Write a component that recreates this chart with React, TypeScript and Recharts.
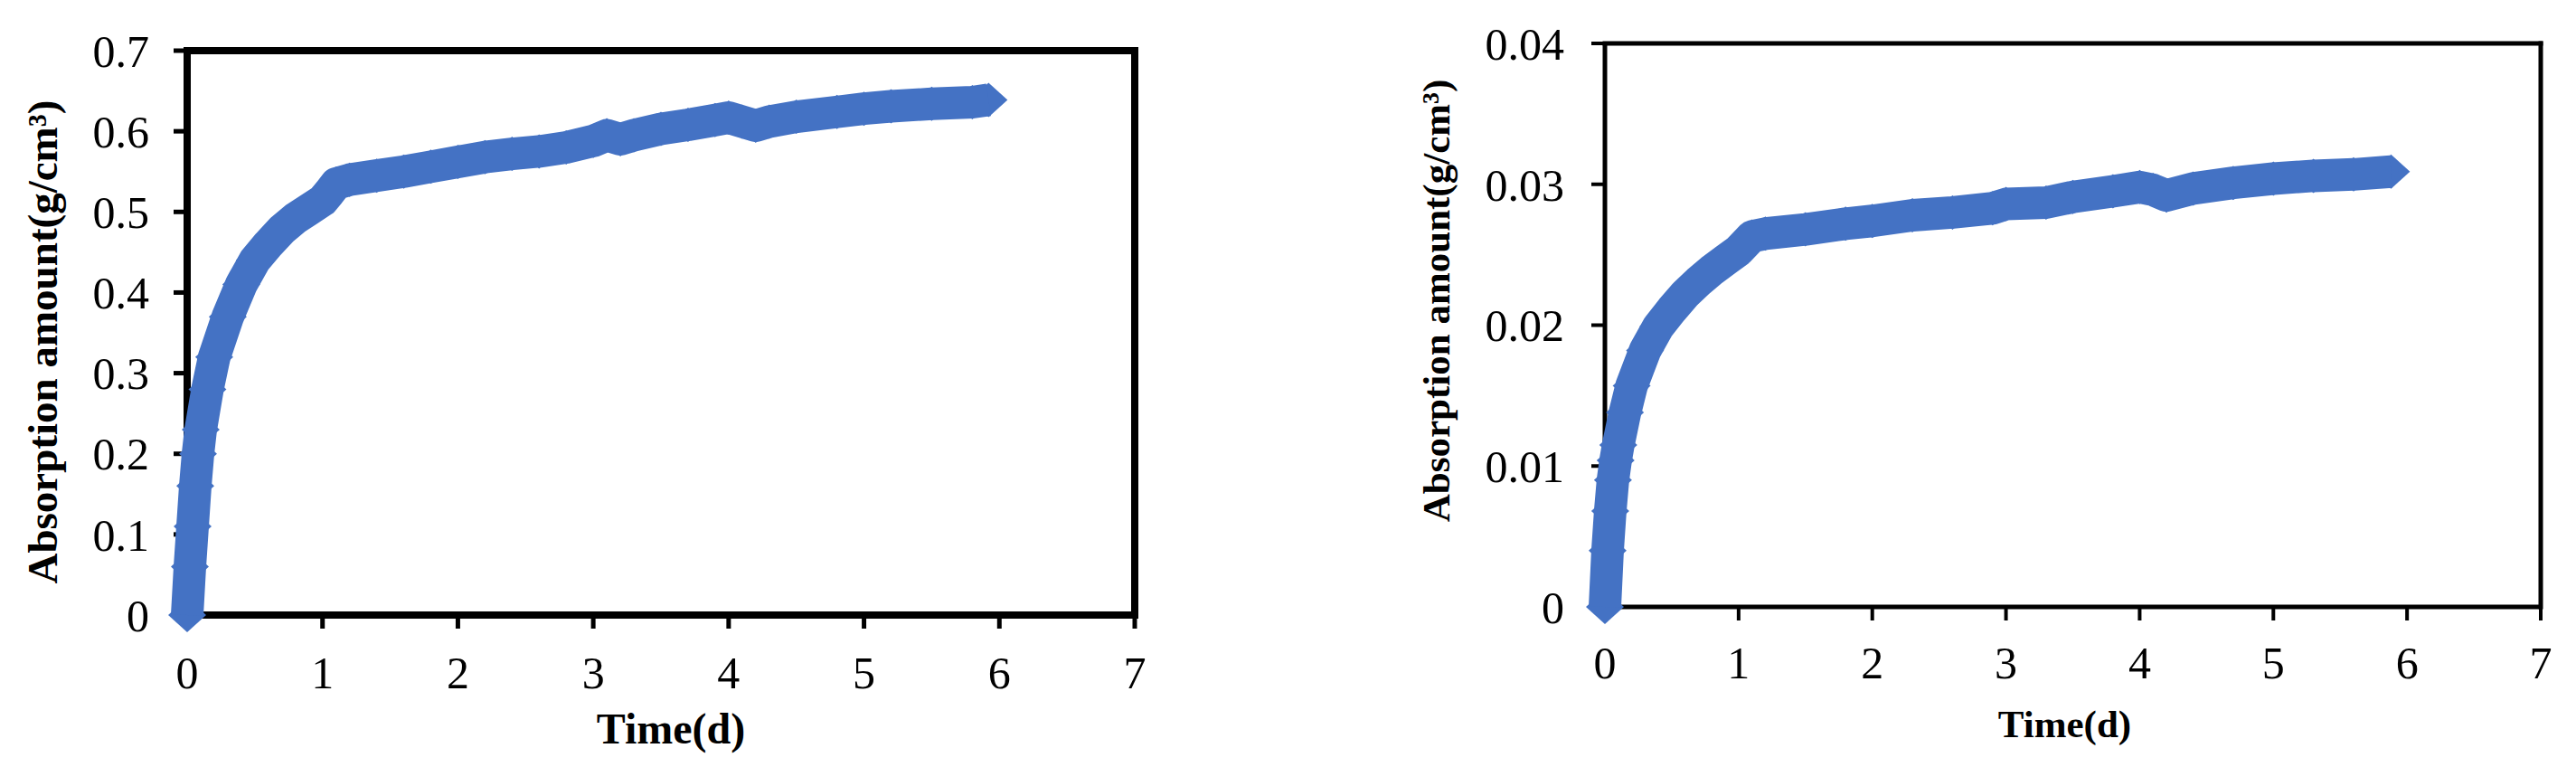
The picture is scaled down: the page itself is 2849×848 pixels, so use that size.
import { LineChart, Line, XAxis, YAxis, ReferenceLine } from 'recharts';

const timeTicks = [0, 1, 2, 3, 4, 5, 6, 7];
const leftTicks = [0, 0.1, 0.2, 0.3, 0.4, 0.5, 0.6, 0.7];
const rightTicks = [0, 0.01, 0.02, 0.03, 0.04];

// left panel
const leftTime = [0, 0.02, 0.04, 0.06, 0.08, 0.1, 0.15, 0.2, 0.3, 0.4, 0.5, 0.6, 0.7, 0.8, 0.9, 1.0, 1.05, 1.1, 1.2, 1.4, 1.6, 1.8, 2.0, 2.2, 2.4, 2.6, 2.8, 3.0, 3.1, 3.2, 3.3, 3.5, 3.7, 3.9, 4.0, 4.1, 4.2, 4.3, 4.5, 4.8, 5.0, 5.2, 5.5, 5.8, 5.92];
const leftAbs = [0, 0.06, 0.11, 0.16, 0.2, 0.23, 0.28, 0.32, 0.37, 0.41, 0.44, 0.46, 0.478, 0.492, 0.503, 0.514, 0.524, 0.535, 0.54, 0.545, 0.55, 0.556, 0.562, 0.568, 0.572, 0.575, 0.58, 0.588, 0.595, 0.59, 0.595, 0.603, 0.608, 0.614, 0.617, 0.612, 0.607, 0.612, 0.618, 0.624, 0.628, 0.631, 0.634, 0.636, 0.639];

// right panel
const rightTime = [0, 0.02, 0.04, 0.06, 0.08, 0.1, 0.15, 0.2, 0.3, 0.4, 0.5, 0.6, 0.7, 0.8, 0.9, 1.0, 1.1, 1.2, 1.5, 1.8, 2.0, 2.3, 2.6, 2.9, 3.0, 3.3, 3.5, 3.8, 4.0, 4.1, 4.2, 4.4, 4.7, 5.0, 5.3, 5.6, 5.88];
const rightAbs = [0, 0.004, 0.0068, 0.009, 0.0104, 0.0115, 0.0138, 0.0157, 0.0182, 0.0199, 0.0211, 0.0222, 0.0231, 0.0239, 0.0246, 0.0253, 0.0263, 0.0265, 0.0268, 0.0272, 0.0274, 0.0278, 0.028, 0.0283, 0.0286, 0.0287, 0.0291, 0.0295, 0.0298, 0.0296, 0.0292, 0.0297, 0.0301, 0.0304, 0.0306, 0.0307, 0.0309];

const leftData = leftTime.map((t, i) => ({ t, v: leftAbs[i] }));
const rightData = rightTime.map((t, i) => ({ t, v: rightAbs[i] }));

const BLUE = '#4472C4';
const FONT = '"Liberation Serif", "Times New Roman", serif';

const Diamond = (props: any) => {
  const { cx, cy, index } = props;
  if (cx == null || cy == null) return null;
  return (
    <polygon
      key={index}
      points={`${cx - 21},${cy} ${cx},${cy - 19} ${cx + 21},${cy} ${cx},${cy + 19}`}
      fill={BLUE}
    />
  );
};

interface PanelProps {
  data: { t: number; v: number }[];
  yTicks: number[];
  yMax: number;
  left: number;
  width: number;
  yAxisWidth: number;
  top: number;
  bottom: number;
  right: number;
  stroke: number;
  tickStroke: number;
  yTitleSize: number;
  yTitleX: number;
  yTitleShift: number;
  xTitleSize: number;
  xTitleY: number;
  xTitleShift: number;
  yTickMargin: number;
  xTickMargin: number;
}

function Panel(p: PanelProps) {
  const tickStyle = { fill: '#000', fontSize: 50, fontFamily: FONT };
  const titleStyle = { fontFamily: FONT, fontWeight: 'bold' as const, fill: '#000' };

  const yTitle = ({ viewBox }: any) => {
    const bx = viewBox.x + p.yTitleX;
    const cy = viewBox.y + viewBox.height / 2 + p.yTitleShift;
    return (
      <text x={bx} y={cy} transform={`rotate(-90, ${bx}, ${cy})`} textAnchor="middle" fontSize={p.yTitleSize} style={titleStyle}>
        Absorption amount(g/cm³)
      </text>
    );
  };

  const xTitle = ({ viewBox }: any) => {
    const cx = viewBox.x + viewBox.width / 2 + p.xTitleShift;
    return (
      <text x={cx} y={viewBox.y + p.xTitleY} textAnchor="middle" fontSize={p.xTitleSize} style={titleStyle}>
        Time(d)
      </text>
    );
  };

  return (
    <div style={{ position: 'absolute', left: p.left, top: 0 }}>
      <LineChart
        width={p.width}
        height={848}
        data={p.data}
        margin={{ top: p.top, right: p.right, bottom: 0, left: 0 }}
      >
        <XAxis
          dataKey="t"
          type="number"
          domain={[0, 7]}
          ticks={timeTicks}
          height={848 - p.bottom}
          tick={tickStyle}
          tickSize={15}
          tickMargin={p.xTickMargin}
          axisLine={{ stroke: '#000', strokeWidth: p.stroke }}
          tickLine={{ stroke: '#000', strokeWidth: p.tickStroke }}
          label={{ content: xTitle }}
        />
        <YAxis
          type="number"
          domain={[0, p.yMax]}
          ticks={p.yTicks}
          width={p.yAxisWidth}
          tick={tickStyle}
          tickSize={15}
          tickMargin={p.yTickMargin}
          axisLine={{ stroke: '#000', strokeWidth: p.stroke }}
          tickLine={{ stroke: '#000', strokeWidth: p.tickStroke }}
          label={{ content: yTitle }}
        />
        <ReferenceLine y={p.yMax} stroke="#000" strokeWidth={p.stroke} strokeLinecap="square" />
        <ReferenceLine x={7} stroke="#000" strokeWidth={p.stroke} strokeLinecap="square" />
        <Line
          type="linear"
          dataKey="v"
          stroke={BLUE}
          strokeWidth={36}
          strokeLinejoin="round"
          dot={Diamond}
          activeDot={false}
          isAnimationActive={false}
          zIndex={700}
        />
      </LineChart>
    </div>
  );
}

export default function App() {
  return (
    <div style={{ position: 'absolute', left: 0, top: 0, width: 2849, height: 848, background: '#fff', overflow: 'hidden' }}>
      <Panel
        data={leftData}
        yTicks={leftTicks}
        yMax={0.7}
        left={0}
        width={1400}
        yAxisWidth={207}
        top={56}
        bottom={680}
        right={145}
        stroke={8}
        tickStroke={5}
        yTitleSize={47}
        yTitleX={63}
        yTitleShift={10}
        xTitleSize={48}
        xTitleY={142}
        xTitleShift={11}
        yTickMargin={27}
        xTickMargin={30}
      />
      <Panel
        data={rightData}
        yTicks={rightTicks}
        yMax={0.04}
        left={1500}
        width={1349}
        yAxisWidth={275}
        top={48}
        bottom={671}
        right={39}
        stroke={5}
        tickStroke={4}
        yTitleSize={43}
        yTitleX={103}
        yTitleShift={-27}
        xTitleSize={43}
        xTitleY={144}
        xTitleShift={-9}
        yTickMargin={30}
        xTickMargin={28}
      />
    </div>
  );
}
